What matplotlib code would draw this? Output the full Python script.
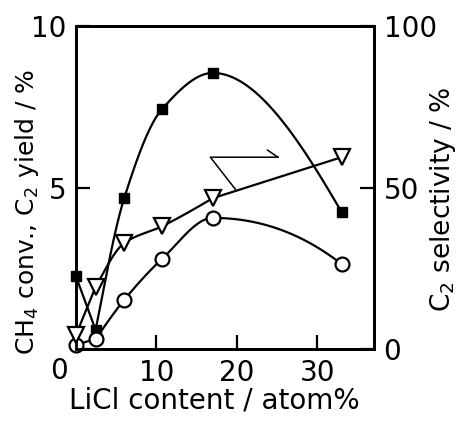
import numpy as np
import matplotlib
matplotlib.use("Agg")
import matplotlib.pyplot as plt
from matplotlib.transforms import ScaledTranslation

# ---- data ----
licl = [0.0, 2.45, 6.0, 10.7, 17.0, 33.0]
ch4_conv = [2.26, 0.59, 4.67, 7.43, 8.55, 4.24]        # squares, left axis (%)
c2_yield = [0.13, 0.31, 1.52, 2.79, 4.06, 2.63]        # circles, left axis (%)
c2_sel = [4.3, 19.2, 32.8, 38.0, 46.7, 59.4]           # triangles, right axis (%)

x_ticks = [0, 10, 20, 30]
left_ticks = [0, 5, 10]
left_labels = ["", "5", "10"]
right_ticks = [0, 50, 100]
right_labels = ["0", "50", "100"]


def smooth(x, y, n=300):
    """Monotone piecewise-cubic (PCHIP-like) curve through the points."""
    x = np.asarray(x, float)
    y = np.asarray(y, float)
    h = np.diff(x)
    m = np.diff(y) / h
    k = len(x)
    d = np.zeros(k)
    for i in range(1, k - 1):
        if m[i - 1] * m[i] <= 0:
            d[i] = 0.0
        else:
            w1 = 2 * h[i] + h[i - 1]
            w2 = h[i] + 2 * h[i - 1]
            d[i] = (w1 + w2) / (w1 / m[i - 1] + w2 / m[i])

    def edge(h0, h1, m0, m1):
        e = ((2 * h0 + h1) * m0 - h0 * m1) / (h0 + h1)
        if np.sign(e) != np.sign(m0):
            e = 0.0
        return 0.5 * (e + m0)

    if k > 2:
        d[0] = edge(h[0], h[1], m[0], m[1])
        d[-1] = edge(h[-1], h[-2], m[-1], m[-2])
    else:
        d[:] = m[0]
    xs = np.linspace(x[0], x[-1], n)
    ys = np.empty_like(xs)
    for j, xv in enumerate(xs):
        i = int(np.clip(np.searchsorted(x, xv, side="right") - 1, 0, k - 2))
        t = (xv - x[i]) / h[i]
        h00 = 2 * t**3 - 3 * t**2 + 1
        h10 = t**3 - 2 * t**2 + t
        h01 = -2 * t**3 + 3 * t**2
        h11 = t**3 - t**2
        ys[j] = h00 * y[i] + h10 * h[i] * d[i] + h01 * y[i + 1] + h11 * h[i] * d[i + 1]
    return xs, ys


plt.rcParams["font.family"] = ["DejaVu Sans"]
plt.rcParams["mathtext.default"] = "regular"

fig = plt.figure(figsize=(4.57, 4.21), dpi=100)
ax = fig.add_axes([0.166, 0.171, 0.652, 0.767])
ax2 = ax.twinx()

lw = 1.6
fs = 20
k = dict(color="black", lw=lw, solid_capstyle="round")

# squares: CH4 conversion
ax.plot(licl[:2], ch4_conv[:2], **k)
ax.plot(*smooth(licl[1:], ch4_conv[1:]), **k)
ax.plot(licl, ch4_conv, ls="none", marker="s", ms=7.5, mfc="black", mec="black", clip_on=False, zorder=5)

# circles: C2 yield
ax.plot(licl[:2], c2_yield[:2], **k)
ax.plot(*smooth(licl[1:], c2_yield[1:]), **k)
ax.plot(licl, c2_yield, ls="none", marker="o", ms=10, mfc="white", mec="black", mew=1.6, clip_on=False, zorder=5)

# triangles: C2 selectivity (right axis)
ax2.plot(licl[:2], c2_sel[:2], **k)
ax2.plot(*smooth(licl[1:5], c2_sel[1:5]), **k)
ax2.plot(licl[4:], c2_sel[4:], **k)
ax2.plot(licl, c2_sel, ls="none", marker="v", ms=11, mfc="white", mec="black", mew=1.6, clip_on=False, zorder=5)

# arrow pointing to the right axis
ax.plot([19.8, 16.7, 25.1], [4.95, 5.94, 5.94], color="black", lw=1.1)
ax.plot([23.8, 25.1], [6.16, 5.94], color="black", lw=1.1)

ax.set_xlim(0, 37)
ax.set_ylim(0, 10)
ax2.set_ylim(0, 100)

ax.set_xticks(x_ticks)
ax.set_xticklabels([""] + [str(t) for t in x_ticks[1:]])
ax.set_yticks(left_ticks)
ax.set_yticklabels(left_labels)
ax2.set_yticks(right_ticks)
ax2.set_yticklabels(right_labels)

for a in (ax, ax2):
    a.tick_params(direction="in", length=10, width=1.6, labelsize=fs, pad=7)
    for s in a.spines.values():
        s.set_linewidth(2.0)

ax.text(0, 0, str(x_ticks[0]), transform=ax.transData + ScaledTranslation(-0.17, -0.08, fig.dpi_scale_trans),
        ha="center", va="top", fontsize=fs)

ax.set_xlabel("LiCl content / atom%", fontsize=20)
ax.xaxis.set_label_coords(0.463, -0.158)
ax.xaxis.label.set_va("center")
ax.set_ylabel("CH$_4$ conv., C$_2$ yield / %", fontsize=18)
ax.yaxis.set_label_coords(-0.164, 0.424)
ax.yaxis.label.set_va("center")
ax2.set_ylabel("C$_2$ selectivity / %", fontsize=19)
ax2.yaxis.set_label_coords(1.232, 0.465)
ax2.yaxis.label.set_va("center")

fig.savefig("out.png", dpi=100)
